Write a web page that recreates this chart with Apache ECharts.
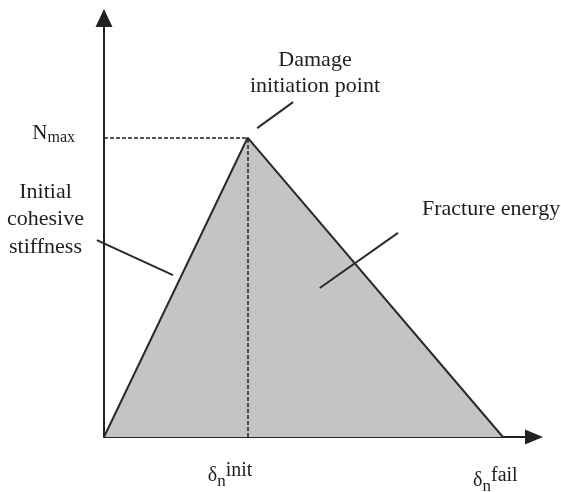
<!DOCTYPE html>
<html>
<head>
<meta charset="utf-8">
<script src="https://cdn.jsdelivr.net/npm/echarts@6/dist/echarts.min.js"></script>
<style>
  html, body { margin: 0; padding: 0; background: #fff; }
  #chart { width: 561px; height: 492px; }
</style>
</head>
<body>
<div id="chart"></div>
<script>
// traction-separation law (bilinear), arbitrary units
const separation = [0, 0.36, 1.0];   // 0, delta_n init, delta_n fail
const traction = [0, 1.0, 0];        // 0, N max, 0
const xMax = 1.078;
const yMax = 1.4;

// tick labels
const xTickValues = [0.36, 1.0];
const xTickSup = ["init", "fail"];
const yTickValues = [1.0];
const yTickSub = ["max"];

// leader lines for the annotations [x1, y1, x2, y2]
const stiffnessLeader = [-0.018, 0.658, 0.173, 0.541];
const damageLeader = [0.384, 1.032, 0.474, 1.119];
const fractureLeader = [0.541, 0.498, 0.737, 0.682];

const serif = "'Liberation Serif', 'Times New Roman', serif";
const ink = "#1e1e1e";

const curveData = separation.map((x, i) => [x, traction[i]]);
const peak = curveData[1];

const leaders = [stiffnessLeader, damageLeader, fractureLeader].map((s) => ({
  coords: [
    [s[0], s[1]],
    [s[2], s[3]],
  ],
}));

// δ_n with superscript; pads shift tokens down inside the label line
function deltaRich(padD, padN, padS, padRight) {
  return {
    d: { fontFamily: serif, fontSize: 20, color: ink, lineHeight: 20, verticalAlign: "top", padding: [padD, 0, 0, 0] },
    n: { fontFamily: serif, fontSize: 17, color: ink, lineHeight: 17, verticalAlign: "top", padding: [padN, 0, 0, 0] },
    s: { fontFamily: serif, fontSize: 20, color: ink, lineHeight: 20, verticalAlign: "top", padding: [padS, padRight, 0, 0] },
  };
}
const richInit = deltaRich(8, 15, 3, 35);
const richFail = deltaRich(13, 20, 8, 15);

var myChart = echarts.init(document.getElementById("chart"));

var option = {
  animation: false,
  grid: {
    left: 104,
    right: 27,
    top: 18,
    bottom: 55,
    outerBoundsMode: "none",
  },
  xAxis: {
    type: "value",
    min: 0,
    max: xMax,
    splitLine: { show: false },
    axisTick: { show: false },
    axisLine: {
      lineStyle: { color: "#222", width: 2 },
      symbol: ["none", "triangle"],
      symbolSize: [15, 18],
    },
    axisLabel: {
      customValues: xTickValues,
      margin: 21,
      formatter: function (v) {
        const i = xTickValues.indexOf(v);
        return i === 0
          ? "{d|δ}{n|n}{s|" + xTickSup[0] + "}"
          : "{D|δ}{N|n}{S|" + xTickSup[1] + "}";
      },
      rich: {
        d: richInit.d,
        n: richInit.n,
        s: richInit.s,
        D: richFail.d,
        N: richFail.n,
        S: richFail.s,
      },
    },
  },
  yAxis: {
    type: "value",
    min: 0,
    max: yMax,
    splitLine: { show: false },
    axisTick: { show: false },
    axisLine: {
      lineStyle: { color: "#222", width: 2 },
      symbol: ["none", "triangle"],
      symbolSize: [17, 18],
    },
    axisLabel: {
      customValues: yTickValues,
      margin: 29,
      formatter: function () {
        return "{N|N}{m|" + yTickSub[0] + "}";
      },
      rich: {
        N: { fontFamily: serif, fontSize: 21, color: ink, lineHeight: 16, verticalAlign: "top" },
        m: { fontFamily: serif, fontSize: 16, color: ink, lineHeight: 30, verticalAlign: "middle" },
      },
    },
  },
  graphic: [
    {
      type: "text",
      x: 315,
      y: 73,
      style: {
        text: "Damage\ninitiation point",
        font: "22px " + serif,
        fill: ink,
        align: "center",
        verticalAlign: "middle",
        lineHeight: 26.5,
      },
    },
    {
      type: "text",
      x: 45.5,
      y: 219.5,
      style: {
        text: "Initial\ncohesive\nstiffness",
        font: "22px " + serif,
        fill: ink,
        align: "center",
        verticalAlign: "middle",
        lineHeight: 27.5,
      },
    },
    {
      type: "text",
      x: 422,
      y: 209.5,
      style: {
        text: "Fracture energy",
        font: "22px " + serif,
        fill: ink,
        align: "left",
        verticalAlign: "middle",
      },
    },
  ],
  series: [
    {
      type: "line",
      data: curveData,
      symbol: "none",
      silent: true,
      lineStyle: { color: "#2a2a2a", width: 2 },
      areaStyle: { color: "#c4c4c4", opacity: 1 },
      markLine: {
        silent: true,
        symbol: ["none", "none"],
        label: { show: false },
        lineStyle: { color: "#222", width: 1.5, type: [4, 2] },
        data: [
          [{ coord: [0, peak[1]] }, { coord: [peak[0], peak[1]] }],
          [{ coord: [peak[0], 0] }, { coord: [peak[0], peak[1]] }],
        ],
      },
      z: 3,
    },
    {
      type: "lines",
      coordinateSystem: "cartesian2d",
      data: leaders,
      clip: false,
      silent: true,
      lineStyle: { color: "#2a2a2a", width: 2, opacity: 1 },
      z: 5,
    },
  ],
};

myChart.setOption(option);
</script>
</body>
</html>
